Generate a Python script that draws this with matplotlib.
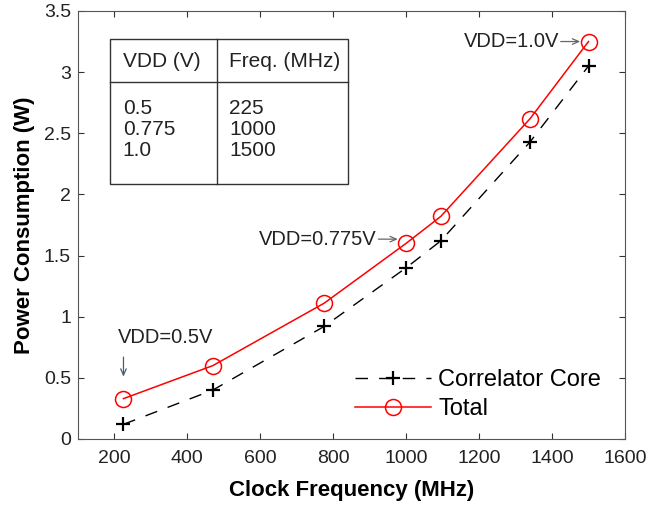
import matplotlib
matplotlib.use('Agg')
import matplotlib.pyplot as plt
from matplotlib.patches import Rectangle
from matplotlib.transforms import offset_copy

plt.rcParams['font.family'] = ['Liberation Sans', 'DejaVu Sans']

# measured operating points
freq_mhz = [225, 470, 775, 1000, 1095, 1340, 1500]
core_w = [0.12, 0.40, 0.92, 1.40, 1.62, 2.43, 3.05]
total_w = [0.33, 0.60, 1.11, 1.60, 1.82, 2.62, 3.25]

# supply voltage / frequency table
table_vdd = ['0.5', '0.775', '1.0']
table_freq = ['225', '1000', '1500']

fig = plt.figure(figsize=(6.49, 5.12), dpi=100)
ax = fig.add_axes([0.120, 0.1426, 0.843, 0.836])

ax.plot(freq_mhz, core_w, color='black', linestyle=(0, (9, 8)), linewidth=1.0,
        marker='+', markersize=10, markeredgewidth=1.6, label='Correlator Core')
ax.plot(freq_mhz, total_w, color='red', linestyle='-', linewidth=1.1,
        marker='o', markersize=11.5, markerfacecolor='none', markeredgewidth=1.1,
        label='Total')

ax.set_xlim(100, 1600)
ax.set_ylim(0, 3.5)
ax.set_xticks(range(200, 1601, 200))
ax.set_yticks([0, 0.5, 1, 1.5, 2, 2.5, 3, 3.5])
ax.set_yticklabels(['0', '0.5', '1', '1.5', '2', '2.5', '3', '3.5'])
ax.tick_params(direction='in', top=True, right=True, labelsize=14, length=4,
               color='#333333', labelcolor='#222222')
ax.tick_params(axis='x', pad=8)
ax.tick_params(axis='y', pad=5)
for s in ax.spines.values():
    s.set_color('#555555')

ax.set_xlabel('Clock Frequency (MHz)', fontsize=16, fontweight='bold', labelpad=9)
ax.set_ylabel('Power Consumption (W)', fontsize=16, fontweight='bold', labelpad=6)

# voltage annotations: label text followed by a short horizontal grey arrow
arrow = dict(arrowstyle='->,head_length=0.45,head_width=0.2', color='#666666',
             lw=0.9, shrinkA=0, shrinkB=6)

def vdd_label(text, i, dy=0):
    pt = (freq_mhz[i], total_w[i])
    shifted = offset_copy(ax.transData, fig=fig, x=0, y=dy, units='points')
    ax.annotate(text, xy=pt, xycoords=shifted, xytext=(-21, 0),
                textcoords='offset points', ha='right', va='center',
                fontsize=14.5, color='#222222')
    ax.annotate('', xy=pt, xycoords=shifted, xytext=(-20, 0),
                textcoords='offset points', arrowprops=arrow)

vdd_label('VDD=1.0V', 6)
vdd_label('VDD=0.775V', 3, dy=3)
ax.text(209, 0.826, 'VDD=0.5V', fontsize=14.5, ha='left', va='center', color='#222222')
ax.annotate('', xy=(freq_mhz[0], 0.51), xytext=(freq_mhz[0], 0.67),
            arrowprops=dict(arrowstyle='->,head_length=0.45,head_width=0.2',
                            color='#4a5a7a', lw=0.9, shrinkA=0, shrinkB=0))

# inset table
tx0, tx1, txm = 0.0585, 0.493, 0.254
ty0, ty1, tym = 0.595, 0.9346, 0.834
ax.add_patch(Rectangle((tx0, ty0), tx1 - tx0, ty1 - ty0, transform=ax.transAxes,
                       fill=False, edgecolor='#333333', lw=1.0, zorder=5))
ax.plot([txm, txm], [ty0, ty1], transform=ax.transAxes, color='#333333', lw=1.0)
ax.plot([tx0, tx1], [tym, tym], transform=ax.transAxes, color='#333333', lw=1.0)
ax.text(0.082, 0.881, 'VDD (V)', transform=ax.transAxes, fontsize=15,
        va='center', color='#222222')
ax.text(0.277, 0.881, 'Freq. (MHz)', transform=ax.transAxes, fontsize=15,
        va='center', color='#222222')
row_y = [0.771, 0.722, 0.675]
for v, f, y in zip(table_vdd, table_freq, row_y):
    ax.text(0.082, y, v, transform=ax.transAxes, fontsize=15, va='center',
            color='#222222')
    ax.text(0.277, y, f, transform=ax.transAxes, fontsize=15, va='center',
            color='#222222')

ax.legend(loc='lower right', bbox_to_anchor=(0.995, -0.005), frameon=False,
          fontsize=17, handlelength=3.2, handletextpad=0.3, labelspacing=0.3)

fig.savefig('out.png', dpi=100)
